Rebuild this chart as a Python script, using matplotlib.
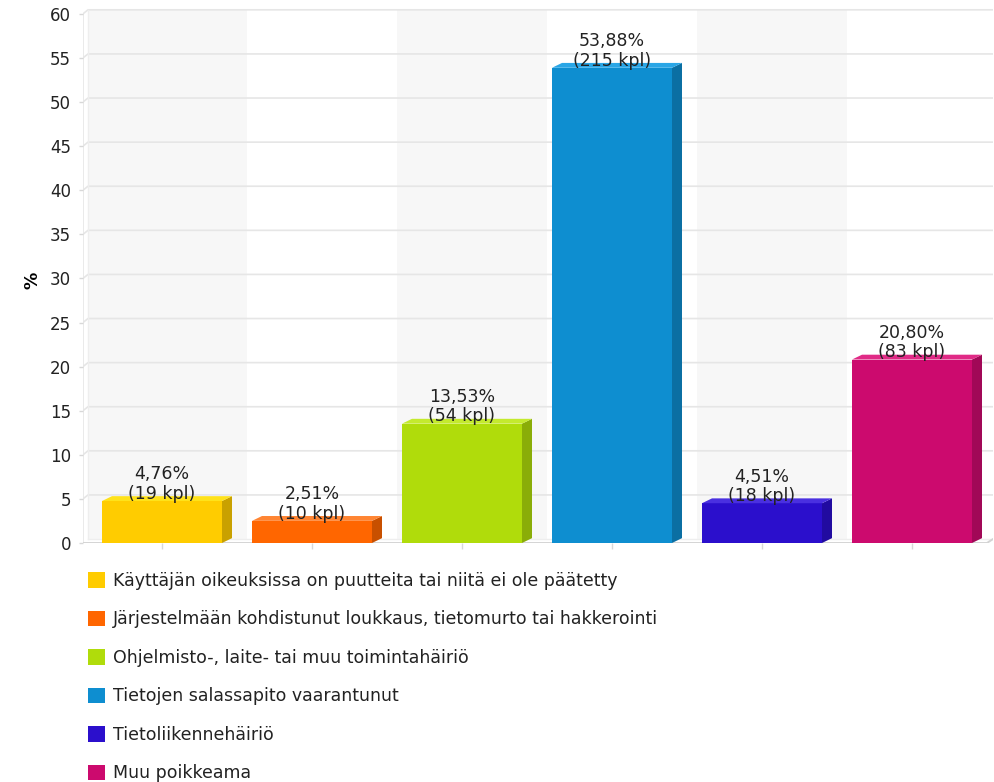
import matplotlib.pyplot as plt
from matplotlib.patches import Polygon, Patch

categories = [
    "Käyttäjän oikeuksissa on puutteita tai niitä ei ole päätetty",
    "Järjestelmään kohdistunut loukkaus, tietomurto tai hakkerointi",
    "Ohjelmisto-, laite- tai muu toimintahäiriö",
    "Tietojen salassapito vaarantunut",
    "Tietoliikennehäiriö",
    "Muu poikkeama",
]
percents = [4.76, 2.51, 13.53, 53.88, 4.51, 20.80]
counts = [19, 10, 54, 215, 18, 83]
front_colors = ["#ffcc00", "#ff6600", "#b0dc0b", "#0e8ed0", "#2b0fcc", "#cc0a6e"]
side_colors = ["#c9a100", "#c85000", "#8aad08", "#0b6fa3", "#210ba0", "#a10857"]
top_colors = ["#ffe21a", "#ff8533", "#c4ea2e", "#2aa6e6", "#4a30e0", "#e02a86"]

fig = plt.figure(figsize=(9.94, 7.82), dpi=100)
# axes: left edge 83px, right 993px, y=0 at 543px
ax = fig.add_axes([83 / 994, 1 - 543 / 782, 910 / 994, 535 / 782])

n = len(percents)
xmin, xmax = -4 / 150, 906 / 150
ax.set_xlim(xmin, xmax)
ax.set_ylim(0, 535 / 8.82)

wx = 1 / 150      # back wall x offset (left wall depth)
dx = 10 / 150     # depth offset of bars / back wall bands
wy = 0.45         # back wall y offset
grid_c = "#e6e6e6"

# alternating bands on the back wall
for i in range(0, n, 2):
    a = wx if i == 0 else i + dx
    ax.fill_between([a, i + 1 + dx], wy, 60 + wy, color="#f7f7f7", lw=0, zorder=0)

# gridlines on the back wall with a small slant at the left wall
for t in range(5, 61, 5):
    ax.plot([xmin, wx, xmax], [t, t + wy, t + wy], color=grid_c, lw=1.2, zorder=1,
            solid_capstyle="butt")
ax.plot([xmin, xmin], [0, 60], color=grid_c, lw=1.2, zorder=1)
ax.plot([wx, wx], [wy, 60 + wy], color="#eeeeee", lw=1, zorder=1)
# floor
ax.plot([xmin, 6.0, xmax], [0, 0, wy], color="#d4d4d4", lw=1.4, zorder=2)
ax.plot([wx, xmax], [wy, wy], color="#eeeeee", lw=1, zorder=1)

w = 0.8
by = 0.55
for i, (v, c) in enumerate(zip(percents, counts)):
    x0 = i + 0.5 - w / 2
    x1 = x0 + w
    ax.add_patch(Polygon([(x0, 0), (x1, 0), (x1, v), (x0, v)],
                         closed=True, fc=front_colors[i], ec="none", zorder=3))
    ax.add_patch(Polygon([(x1, 0), (x1 + dx, by), (x1 + dx, v + by), (x1, v)],
                         closed=True, fc=side_colors[i], ec="none", zorder=3))
    ax.add_patch(Polygon([(x0, v), (x1, v), (x1 + dx, v + by), (x0 + dx, v + by)],
                         closed=True, fc=top_colors[i], ec="none", zorder=3))
    lbl = ("%.2f%%" % v).replace(".", ",") + "\n(%d kpl)" % c
    ax.text(i + 0.5, v - 0.2, lbl, ha="center", va="bottom", fontsize=12.5,
            color="#222222", linespacing=1.1, zorder=4)

ax.set_xticks([i + 0.5 for i in range(n)])
ax.set_xticklabels([])
ax.set_yticks(range(0, 61, 5))
ax.tick_params(axis="x", length=4, color="#d8d8d8", width=1)
ax.tick_params(axis="y", length=3, color="#d8d8d8", width=1, labelsize=12,
               labelcolor="#222222", pad=5.5)

for s in ax.spines.values():
    s.set_visible(False)

ax.set_ylabel("%", fontsize=12.5, fontweight="bold")
ax.yaxis.set_label_coords(-42 / 910, (543 - 280) / 535)

handles = [Patch(fc=front_colors[i], ec="none") for i in range(n)]
leg = fig.legend(handles, categories, loc="upper left",
                 bbox_to_anchor=(88 / 994, 1 - 572 / 782), frameon=False,
                 fontsize=12.5, handlelength=0.98, handleheight=0.98,
                 handletextpad=0.46, labelspacing=1.18, borderaxespad=0,
                 borderpad=0)
for t in leg.get_texts():
    t.set_color("#222222")

fig.savefig("out.png", dpi=100)
